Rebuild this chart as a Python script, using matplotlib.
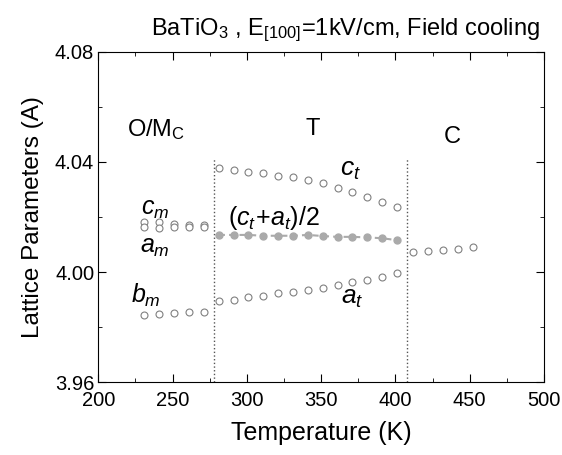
import numpy as np
import matplotlib
matplotlib.use('Agg')
import matplotlib.pyplot as plt
from matplotlib.ticker import MultipleLocator

plt.rcParams['font.family'] = ['Liberation Sans', 'DejaVu Sans']
plt.rcParams['mathtext.fontset'] = 'custom'
plt.rcParams['mathtext.rm'] = 'Liberation Sans'
plt.rcParams['mathtext.it'] = 'Liberation Sans:italic'

# O/Mc phase
T_m = [231, 241, 251, 261, 271]
c_m = [4.0182, 4.0183, 4.0175, 4.0172, 4.0170]
a_m = [4.0162, 4.0160, 4.0163, 4.0163, 4.0162]
b_m = [3.9844, 3.9846, 3.9850, 3.9856, 3.9856]

# T phase
T_t = [281, 291, 301, 311, 321, 331, 341, 351, 361, 371, 381, 391, 401]
c_t = [4.0377, 4.0371, 4.0365, 4.0359, 4.0349, 4.0344, 4.0335,
       4.0323, 4.0304, 4.0292, 4.0273, 4.0256, 4.0236]
a_t = [3.9896, 3.9898, 3.9908, 3.9913, 3.9923, 3.9928, 3.9935,
       3.9943, 3.9953, 3.9965, 3.9973, 3.9983, 3.9997]
avg_t = [4.0135, 4.0135, 4.0135, 4.0132, 4.0132, 4.0132, 4.0135,
         4.0131, 4.0128, 4.0128, 4.0126, 4.0123, 4.0116]

# C phase
T_c = [412, 422, 432, 442, 452]
a_c = [4.0072, 4.0075, 4.0080, 4.0084, 4.0092]

boundaries = [278, 408]

fig = plt.figure(figsize=(5.62, 4.55), dpi=100)
ax = fig.add_axes([0.175, 0.160, 0.793, 0.726])

ring = dict(ls='none', marker='o', ms=5, mfc='white', mec='#808080', mew=0.8)
for y in (c_m, a_m, b_m):
    ax.plot(T_m, y, **ring)
ax.plot(T_t, c_t, **ring)
ax.plot(T_t, a_t, **ring)
ax.plot(T_c, a_c, **ring)
ax.plot(T_t, avg_t, ls='--', color='#aaaaaa', lw=1.5, marker='o', ms=5,
        mfc='#aaaaaa', mec='#aaaaaa', dashes=(3, 2))

for b in boundaries:
    ax.plot([b, b], [3.96, 4.041], ls=':', color='#555555', lw=1)

ax.text(219, 4.0516, 'O/M$_\\mathrm{C}$', fontsize=17, va='center', ha='left')
ax.text(344, 4.052, 'T', fontsize=17, va='center', ha='center')
ax.text(438, 4.049, 'C', fontsize=17, va='center', ha='center')
ax.text(370, 4.037, '$c_t$', fontsize=19, va='center', ha='center')
ax.text(371, 3.9905, '$a_t$', fontsize=19, va='center', ha='center')
ax.text(318, 4.0195, '$(c_t\\!+\\!a_t)/2$', fontsize=18, va='center', ha='center')
ax.text(238, 4.0228, '$c_m$', fontsize=18, va='center', ha='center')
ax.text(238, 4.0092, '$a_m$', fontsize=18, va='center', ha='center')
ax.text(232, 3.9915, '$b_m$', fontsize=18, va='center', ha='center')

ax.set_xlim(200, 500)
ax.set_ylim(3.96, 4.08)
ax.xaxis.set_major_locator(MultipleLocator(50))
ax.xaxis.set_minor_locator(MultipleLocator(25))
ax.yaxis.set_major_locator(MultipleLocator(0.04))
ax.yaxis.set_minor_locator(MultipleLocator(0.02))
ax.yaxis.set_major_formatter(plt.FormatStrFormatter('%.2f'))
ax.tick_params(which='both', direction='in', top=True, right=True, labelsize=14.5)
ax.tick_params(which='major', length=6)
ax.tick_params(which='minor', length=3)
ax.tick_params(axis='x', pad=6)
ax.tick_params(axis='y', pad=3)

ax.set_xlabel('Temperature (K)', fontsize=18, labelpad=8)
ax.set_ylabel('Lattice Parameters (A)', fontsize=17.5, labelpad=8)
ax.set_title('BaTiO$_3$ , E$_{[100]}$=1kV/cm, Field cooling', fontsize=17, pad=12, x=0.555)

fig.savefig('out.png', dpi=100)
